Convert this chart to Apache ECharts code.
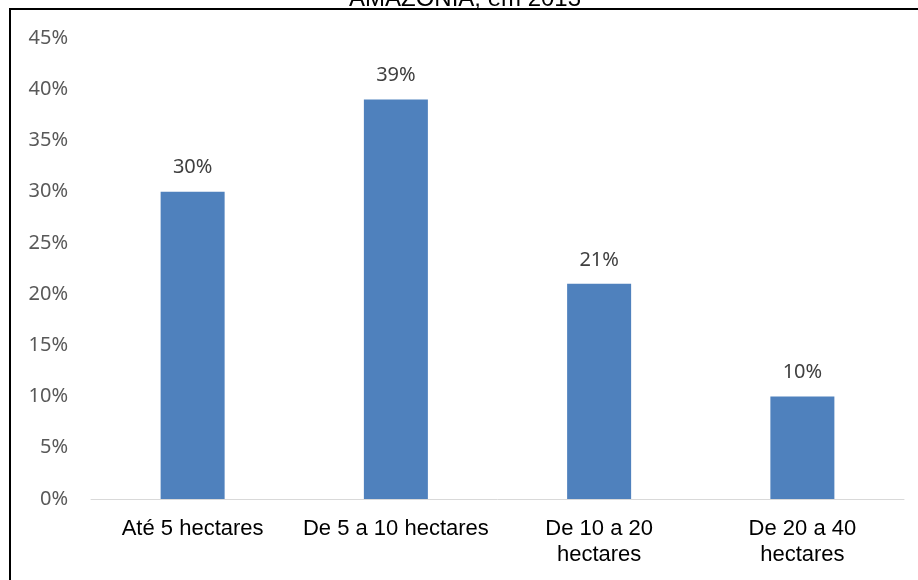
<!DOCTYPE html>
<html>
<head>
<meta charset="utf-8">
<script src="https://cdn.jsdelivr.net/npm/echarts@6/dist/echarts.min.js"></script>
<style>
html,body{margin:0;padding:0;background:#fff;}
#chart{width:918px;height:580px;}
</style>
</head>
<body>
<div id="chart"></div>
<script>
// Farm size classes and their share of properties
const categories = ['Até 5 hectares', 'De 5 a 10 hectares', 'De 10 a 20\nhectares', 'De 20 a 40\nhectares'];
const shares = [30, 39, 21, 10];
const yTicks = [0, 5, 10, 15, 20, 25, 30, 35, 40, 45];
const titleText = 'AMAZÔNIA, em 2013';

const chart = echarts.init(document.getElementById('chart'), null, {renderer: 'canvas'});
chart.setOption({
  animation: false,
  backgroundColor: '#ffffff',
  graphic: [
    {
      type: 'rect',
      shape: {x: 10, y: 9, width: 1000, height: 1000},
      style: {fill: 'none', stroke: '#000', lineWidth: 2},
      silent: true
    },
    {
      type: 'text',
      x: 465,
      y: 11,
      style: {
        text: titleText,
        fill: '#000',
        font: '24px "Liberation Sans", Arial, sans-serif',
        textAlign: 'center',
        textVerticalAlign: 'bottom'
      },
      silent: true
    }
  ],
  grid: {left: 91, right: 14, top: 38, bottom: 81, containLabel: false},
  xAxis: {
    type: 'category',
    data: categories,
    axisTick: {show: false},
    axisLine: {show: true, lineStyle: {color: '#D9D9D9', width: 1}},
    axisLabel: {
      color: '#000',
      fontFamily: '"Liberation Sans", Arial, sans-serif',
      fontSize: 22,
      lineHeight: 26,
      margin: 17,
      interval: 0
    }
  },
  yAxis: {
    type: 'value',
    min: yTicks[0],
    max: yTicks[yTicks.length - 1],
    interval: 5,
    splitLine: {show: false},
    axisLine: {show: false},
    axisTick: {show: false},
    axisLabel: {
      color: '#595959',
      fontFamily: '"Noto Sans", sans-serif',
      fontSize: 20,
      margin: 23,
      formatter: v => v + '%'
    }
  },
  series: [{
    type: 'bar',
    data: shares,
    barWidth: 64,
    itemStyle: {color: '#4F81BD'},
    label: {
      show: true,
      position: 'top',
      distance: 14,
      color: '#404040',
      fontFamily: '"Noto Sans", sans-serif',
      fontSize: 20,
      formatter: p => p.value + '%'
    }
  }]
});
</script>
</body>
</html>
